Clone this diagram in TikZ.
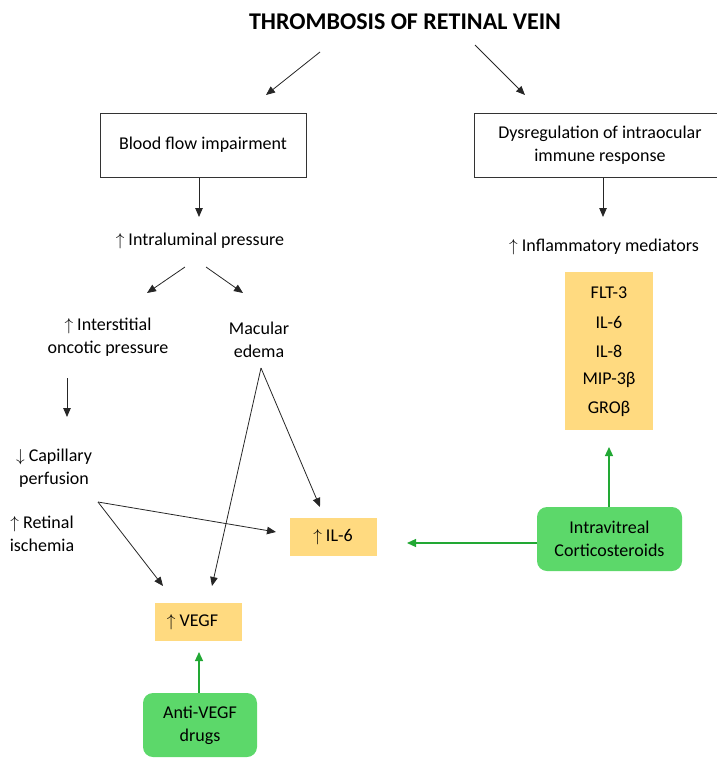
\documentclass[tikz,border=0pt]{standalone}
\usepackage{fontspec}
\setmainfont{Carlito}
\usetikzlibrary{arrows.meta}
\definecolor{yel}{RGB}{255,218,128}
\definecolor{grn}{RGB}{92,216,106}
\definecolor{gline}{RGB}{34,168,52}
\begin{document}
\begin{tikzpicture}[x=1pt,y=-1pt,
  font=\fontsize{18}{23}\selectfont,
  arr/.style={draw=black!85, line width=0.8pt, -{Triangle[length=9pt,width=7.5pt]}},
  garr/.style={draw=gline, line width=1.2pt, -{Triangle[length=9pt,width=8pt]}},
  txt/.style={align=center, inner sep=0pt},
  framebox/.style={draw=black!80, line width=1pt, fill=white, align=center, inner sep=0pt},
  yelbox/.style={fill=yel, inner sep=0pt, align=center},
  grnbox/.style={fill=grn, rounded corners=10pt, inner sep=0pt, align=center}]
\useasboundingbox (0,0) rectangle (716,758);

% title
\node[txt, font=\fontsize{24}{28}\selectfont\bfseries] (title) at (405,22) {THROMBOSIS OF RETINAL VEIN};

% boxes
\node[framebox, minimum width=206pt, minimum height=64pt] (b1) at (203,145) {Blood flow impairment};
\node[framebox, minimum width=252pt, minimum height=64pt] (b2) at (600,145) {Dysregulation of intraocular\\immune response};

% texts
\node[txt] (ip) at (200,241) {$\uparrow$ Intraluminal pressure};
\node[txt] (im) at (604,247) {$\uparrow$ Inflammatory mediators};
\node[txt] (io) at (108,337) {$\uparrow$ Interstitial\\oncotic pressure};
\node[txt] (me) at (259,340) {Macular\\edema};
\node[txt] (cp) at (54,468) {$\downarrow$ Capillary\\perfusion};
\node[txt] (ri) at (42,534) {$\uparrow$ Retinal\\ischemia};

% mediator list
\node[yelbox, minimum width=88pt, minimum height=158pt] (list) at (609,351) {};
\node[txt] (m1) at (609,293) {FLT-3};
\node[txt] (m2) at (609,322) {IL-6};
\node[txt] (m3) at (609,351) {IL-8};
\node[txt] (m4) at (609,380) {MIP-3β};
\node[txt] (m5) at (609,409) {GROβ};

% yellow result boxes
\node[yelbox, minimum width=87pt, minimum height=38pt] (il6) at (333,537) {$\uparrow$ IL-6};
\node[yelbox, minimum width=87pt, minimum height=38pt] (vegf) at (198.5,622) {$\uparrow$ VEGF\hspace{12pt}};

% green boxes
\node[grnbox, minimum width=114pt, minimum height=64pt] (anti) at (200,725) {Anti-VEGF\\drugs};
\node[grnbox, minimum width=145pt, minimum height=64pt] (cort) at (609.5,539) {Intravitreal\\Corticosteroids};

% connector end points
\coordinate (a1s) at (320,52);  \coordinate (a1e) at (266,95);
\coordinate (a2s) at (475,45);  \coordinate (a2e) at (525,95);
\coordinate (a3e) at (199,217);
\coordinate (a4e) at (603,217);
\coordinate (a5s) at (185,267); \coordinate (a5e) at (147,293);
\coordinate (a6s) at (206,267); \coordinate (a6e) at (243,293);
\coordinate (a7s) at (67,378);  \coordinate (a7e) at (67,417);
\coordinate (cps) at (98,502);
\coordinate (a8e) at (276,532);
\coordinate (a9e) at (163,586);
\coordinate (mes) at (261,368);
\coordinate (a10e) at (212,586);
\coordinate (a11e) at (320,507);
\coordinate (g1e) at (199,652);
\coordinate (g2e) at (407,543);
\coordinate (g3e) at (609,447);

% black connectors
\draw[arr] (a1s) -- (a1e);
\draw[arr] (a2s) -- (a2e);
\draw[arr] (b1.south -| a3e) -- (a3e);
\draw[arr] (b2.south -| a4e) -- (a4e);
\draw[arr] (a5s) -- (a5e);
\draw[arr] (a6s) -- (a6e);
\draw[arr] (a7s) -- (a7e);
\draw[arr] (cps) -- (a8e);
\draw[arr] (cps) -- (a9e);
\draw[arr] (mes) -- (a10e);
\draw[arr] (mes) -- (a11e);

% green connectors
\draw[garr] (anti.north -| g1e) -- (g1e);
\draw[garr] (cort.west |- g2e) -- (g2e);
\draw[garr] (cort.north -| g3e) -- (g3e);
\end{tikzpicture}
\end{document}
